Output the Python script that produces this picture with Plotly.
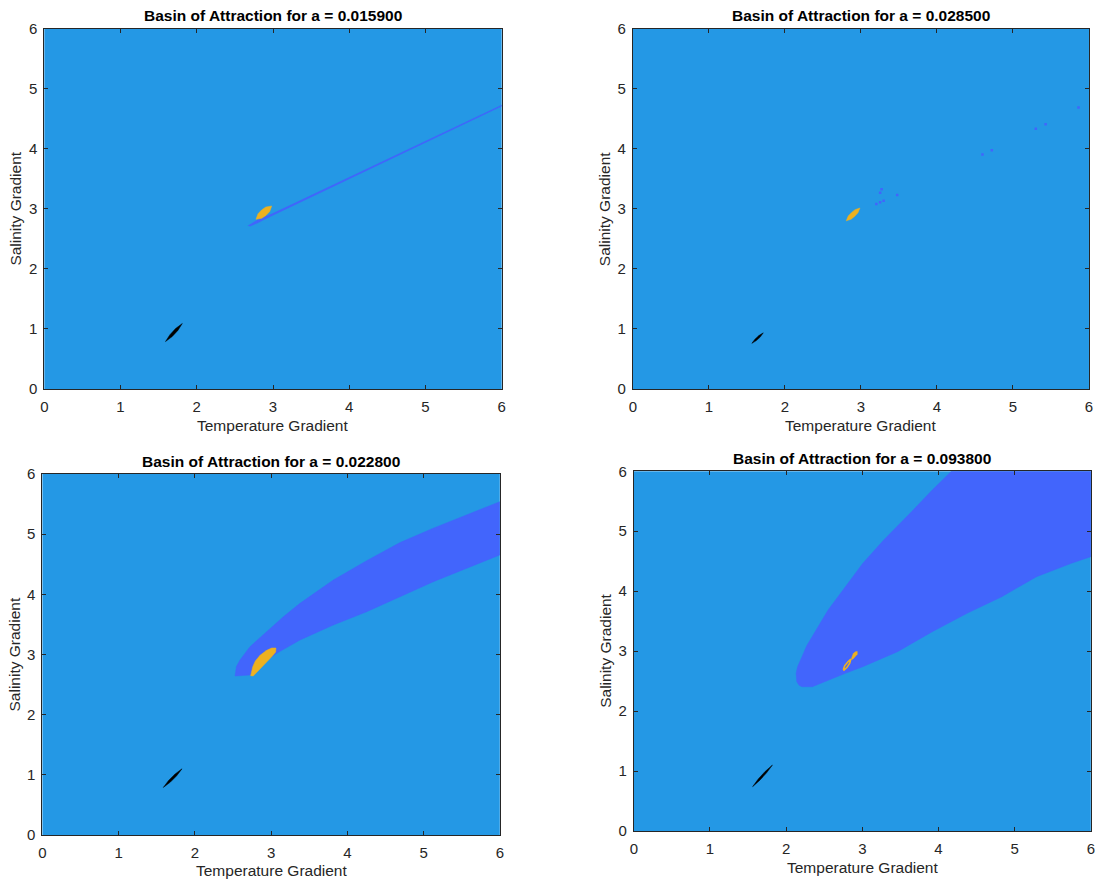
import plotly.graph_objects as go

# ---------------------------------------------------------------- data
TICKS = [0, 1, 2, 3, 4, 5, 6]
A_LABELS = ["0.015900", "0.028500", "0.022800", "0.093800"]

# a = 0.015900
P1_BLACK_X = [1.59, 1.678, 1.752, 1.81, 1.722, 1.648]
P1_BLACK_Y = [0.79, 0.874, 0.976, 1.09, 1.006, 0.904]
P1_YELLOW_X = [2.777, 2.854, 2.91, 2.957, 2.983, 2.906, 2.85, 2.804]
P1_YELLOW_Y = [2.826, 2.845, 2.893, 2.956, 3.048, 3.030, 2.981, 2.919]
P1_BASIN_X = [2.67, 2.8, 2.9, 3.0, 3.5, 4.0, 4.5, 5.0, 5.5, 6.0,
              6.0, 5.5, 5.0, 4.5, 4.0, 3.5, 3.0, 2.9, 2.8, 2.70]
P1_BASIN_Y = [2.72, 2.820, 2.872, 2.925, 3.226, 3.527, 3.828, 4.129, 4.430, 4.731,
              4.709, 4.408, 4.107, 3.806, 3.505, 3.204, 2.903, 2.832, 2.764, 2.71]

# a = 0.028500
P2_BLACK_X = [1.565, 1.624, 1.675, 1.715, 1.657, 1.606]
P2_BLACK_Y = [0.76, 0.806, 0.865, 0.935, 0.889, 0.830]
P2_YELLOW_X = [2.807, 2.871, 2.919, 2.961, 2.987, 2.923, 2.875, 2.833]
P2_YELLOW_Y = [2.80, 2.828, 2.877, 2.935, 3.014, 2.987, 2.937, 2.880]
P2_DOTS_X = [3.203, 3.253, 3.299, 3.272, 3.253, 3.477, 4.599, 4.722, 5.301, 5.43, 5.863]
P2_DOTS_Y = [3.081, 3.109, 3.136, 3.326, 3.27, 3.231, 3.903, 3.976, 4.332, 4.41, 4.687]

# a = 0.022800
P3_BLACK_X = [1.586, 1.679, 1.762, 1.831, 1.738, 1.655]
P3_BLACK_Y = [0.79, 0.879, 0.985, 1.10, 1.011, 0.905]
P3_YELLOW_X = [2.732, 2.759, 2.793, 2.855, 2.942, 3.008, 3.064, 3.060, 3.008, 2.942, 2.877, 2.811, 2.766]
P3_YELLOW_Y = [2.648, 2.797, 2.892, 2.987, 3.069, 3.108, 3.108, 3.041, 2.963, 2.875, 2.787, 2.709, 2.643]
P3_BASIN_X = [2.527, 2.545, 2.592, 2.665, 2.723, 2.942, 3.161, 3.379, 3.816, 4.254, 4.691, 5.128, 5.566, 6.0,
              6.0, 5.566, 5.128, 4.691, 4.254, 3.816, 3.379, 3.074, 2.855, 2.723, 2.527]
P3_BASIN_Y = [2.643, 2.800, 2.908, 3.040, 3.129, 3.379, 3.628, 3.850, 4.238, 4.560, 4.860, 5.100, 5.320, 5.54,
              4.654, 4.432, 4.210, 3.960, 3.711, 3.490, 3.241, 3.020, 2.825, 2.659, 2.643]

# a = 0.093800
P4_BLACK_X = [1.56, 1.655, 1.743, 1.82, 1.724, 1.636]
P4_BLACK_Y = [0.74, 0.848, 0.970, 1.10, 0.992, 0.870]
P4_YELLOW_X = [2.861, 2.882, 2.91, 2.934, 2.934, 2.905, 2.878, 2.858]
P4_YELLOW_Y = [2.89, 2.96, 2.99, 2.995, 2.95, 2.905, 2.87, 2.86]
P4_RING_X = [2.75, 2.77, 2.81, 2.85, 2.835, 2.80, 2.76, 2.75]
P4_RING_Y = [2.69, 2.76, 2.82, 2.87, 2.80, 2.73, 2.685, 2.69]
P4_BASIN_X = [4.17, 3.919, 3.646, 3.450, 3.281, 3.007, 2.778, 2.551, 2.368, 2.270, 2.208, 2.150, 2.131,
              2.14, 2.17, 2.208, 2.345,
              2.551, 2.778, 3.007, 3.463, 3.919, 4.376, 4.832, 5.288, 5.745, 6.0, 6.0]
P4_BASIN_Y = [6.0, 5.688, 5.326, 5.080, 4.854, 4.465, 4.076, 3.686, 3.298, 3.090, 2.908, 2.740, 2.630,
              2.49, 2.43, 2.407, 2.407,
              2.519, 2.630, 2.741, 2.991, 3.325, 3.631, 3.909, 4.242, 4.465, 4.576, 6.0]

# ---------------------------------------------------------------- styles
BG_BLUE = "#2498E5"
DARK_BLUE = "#4265FC"
YELLOW = "#EDB120"
BLACK = "#000000"
AXIS_COLOR = "#262626"
FONT = "Liberation Sans, Arial, Helvetica, sans-serif"

# subplot frames in paper coordinates (x domain, y domain)
FRAMES = [
    ([0.04046, 0.45817], [0.55896, 0.96746]),
    ([0.57800, 0.99450], [0.55896, 0.96746]),
    ([0.03872, 0.45644], [0.05329, 0.46259]),
    ([0.57881, 0.99616], [0.05782, 0.46565]),
]
TITLE_Y = [0.9819, 0.9819, 0.4765, 0.4804]
XLABEL_Y = [0.5181, 0.5181, 0.0125, 0.0162]
YLABEL_X = [0.0144, 0.5528, 0.0128, 0.5531]

fig = go.Figure()


def axes_refs(i):
    s = "" if i == 0 else str(i + 1)
    return "x" + s, "y" + s


def add_patch(i, xs, ys, color, width=0.5):
    xr, yr = axes_refs(i)
    fig.add_trace(go.Scatter(
        x=xs + xs[:1], y=ys + ys[:1], mode="lines", fill="toself",
        fillcolor=color, line=dict(color=color, width=width),
        xaxis=xr, yaxis=yr, showlegend=False, hoverinfo="skip"))


# panel 1
add_patch(0, P1_BASIN_X, P1_BASIN_Y, DARK_BLUE, 0.2)
add_patch(0, P1_YELLOW_X, P1_YELLOW_Y, YELLOW)
add_patch(0, P1_BLACK_X, P1_BLACK_Y, BLACK)

# panel 2
xr, yr = axes_refs(1)
fig.add_trace(go.Scatter(
    x=P2_DOTS_X, y=P2_DOTS_Y, mode="markers",
    marker=dict(symbol="square", size=2.5, color=DARK_BLUE, line=dict(width=0)),
    xaxis=xr, yaxis=yr, showlegend=False, hoverinfo="skip"))
add_patch(1, P2_YELLOW_X, P2_YELLOW_Y, YELLOW)
add_patch(1, P2_BLACK_X, P2_BLACK_Y, BLACK)

# panel 3
add_patch(2, P3_BASIN_X, P3_BASIN_Y, DARK_BLUE)
add_patch(2, P3_YELLOW_X, P3_YELLOW_Y, YELLOW)
add_patch(2, P3_BLACK_X, P3_BLACK_Y, BLACK)

# panel 4
add_patch(3, P4_BASIN_X, P4_BASIN_Y, DARK_BLUE)
xr, yr = axes_refs(3)
fig.add_trace(go.Scatter(
    x=P4_RING_X, y=P4_RING_Y, mode="lines",
    line=dict(color=YELLOW, width=1.6),
    xaxis=xr, yaxis=yr, showlegend=False, hoverinfo="skip"))
add_patch(3, P4_YELLOW_X, P4_YELLOW_Y, YELLOW)
add_patch(3, P4_BLACK_X, P4_BLACK_Y, BLACK)

# ---------------------------------------------------------------- layout
axis_common = dict(
    range=[0, 6], tickvals=TICKS, ticktext=[str(t) for t in TICKS],
    showgrid=False, zeroline=False, showline=True, linecolor=AXIS_COLOR,
    linewidth=1, mirror="ticks", ticks="inside", ticklen=4, tickwidth=1,
    tickcolor=AXIS_COLOR, tickfont=dict(family=FONT, size=15, color=AXIS_COLOR),
    ticklabeloverflow="allow",
    automargin=False, fixedrange=True,
)

layout = dict(
    template="none",
    width=1095, height=882,
    margin=dict(l=0, r=0, t=0, b=0, pad=0),
    paper_bgcolor="white", plot_bgcolor=BG_BLUE,
    font=dict(family=FONT, color=AXIS_COLOR),
    showlegend=False,
)

annotations = []
for i, (xd, yd) in enumerate(FRAMES):
    xr, yr = axes_refs(i)
    layout["xaxis" + xr[1:]] = dict(axis_common, domain=xd, anchor=yr, ticklabelstandoff=4)
    layout["yaxis" + yr[1:]] = dict(axis_common, domain=yd, anchor=xr, ticklabelstandoff=3)
    xc = (xd[0] + xd[1]) / 2
    yc = (yd[0] + yd[1]) / 2
    annotations.append(dict(
        text="<b>Basin of Attraction for a = %s</b>" % A_LABELS[i],
        x=xc, y=TITLE_Y[i], xref="paper", yref="paper",
        xanchor="center", yanchor="middle", showarrow=False,
        font=dict(family=FONT, size=15.5, color="black")))
    annotations.append(dict(
        text="Temperature Gradient",
        x=xc, y=XLABEL_Y[i], xref="paper", yref="paper",
        xanchor="center", yanchor="middle", showarrow=False,
        font=dict(family=FONT, size=15.5, color=AXIS_COLOR)))
    annotations.append(dict(
        text="Salinity Gradient", textangle=-90,
        x=YLABEL_X[i], y=yc, xref="paper", yref="paper",
        xanchor="center", yanchor="middle", showarrow=False,
        font=dict(family=FONT, size=15.5, color=AXIS_COLOR)))

# the upper-right panel keeps its last tick label inside the range
layout["xaxis2"]["range"] = [0, 6.0005]

layout["annotations"] = annotations
fig.update_layout(**layout)

fig.write_html("out.html")
